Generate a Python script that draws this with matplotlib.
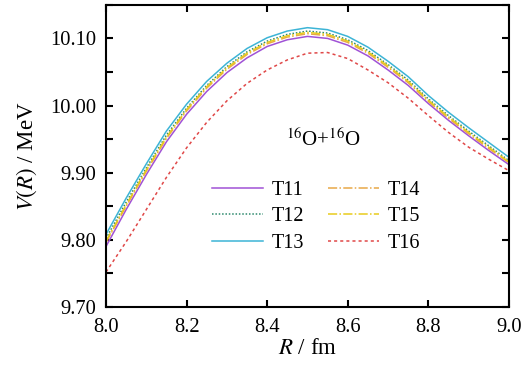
import matplotlib
matplotlib.use("Agg")
import matplotlib.pyplot as plt
from matplotlib.ticker import MultipleLocator, FormatStrFormatter

plt.rcParams['font.family'] = ['Liberation Serif', 'DejaVu Serif']
plt.rcParams['mathtext.fontset'] = 'stix'

R = [8.00, 8.05, 8.10, 8.15, 8.20, 8.25, 8.30, 8.35, 8.40, 8.45, 8.50,
     8.55, 8.60, 8.65, 8.70, 8.75, 8.80, 8.85, 8.90, 8.95, 9.00]

T11 = [9.790, 9.845, 9.897, 9.946, 9.987, 10.021, 10.049, 10.071, 10.088, 10.098, 10.103,
       10.100, 10.090, 10.074, 10.053, 10.030, 10.003, 9.978, 9.955, 9.933, 9.912]
T12 = [9.802, 9.856, 9.907, 9.956, 9.996, 10.030, 10.058, 10.080, 10.096, 10.106, 10.111,
       10.108, 10.098, 10.082, 10.061, 10.038, 10.010, 9.985, 9.962, 9.940, 9.918]
T13 = [9.808, 9.862, 9.913, 9.962, 10.002, 10.036, 10.063, 10.085, 10.101, 10.111, 10.116,
       10.113, 10.103, 10.087, 10.066, 10.043, 10.015, 9.990, 9.967, 9.945, 9.923]
T14 = [9.796, 9.850, 9.902, 9.951, 9.992, 10.026, 10.054, 10.076, 10.092, 10.102, 10.107,
       10.104, 10.094, 10.078, 10.057, 10.034, 10.006, 9.981, 9.958, 9.936, 9.915]
T15 = [9.798, 9.852, 9.904, 9.953, 9.994, 10.028, 10.056, 10.078, 10.094, 10.104, 10.109,
       10.106, 10.096, 10.080, 10.059, 10.036, 10.008, 9.983, 9.960, 9.938, 9.916]
T16 = [9.752, 9.797, 9.845, 9.893, 9.937, 9.975, 10.007, 10.033, 10.053, 10.068, 10.078,
       10.079, 10.070, 10.053, 10.034, 10.011, 9.985, 9.960, 9.938, 9.920, 9.903]

labels = ["T11", "T12", "T13", "T14", "T15", "T16"]
series = [T11, T12, T13, T14, T15, T16]
colors = ["#a052d6", "#2e8a6e", "#3cb4d6", "#e8a848", "#e8cc1c", "#e04848"]
styles = ["-", (0, (1, 1.2)), "-", (0, (6, 1.5, 1, 1.5)), (0, (6, 1.5, 1, 1.5)), (0, (2, 2))]

fig = plt.figure(figsize=(5.22, 3.73), dpi=100)
ax = fig.add_axes([0.203, 0.177, 0.772, 0.810])

for lab, ys, c, ls in zip(labels, series, colors, styles):
    ax.plot(R, ys, color=c, linestyle=ls, linewidth=1.1, label=lab)

ax.set_xlim(8.0, 9.0)
ax.set_ylim(9.70, 10.15)
ax.xaxis.set_major_locator(MultipleLocator(0.2))
ax.yaxis.set_major_locator(MultipleLocator(0.1))
ax.yaxis.set_minor_locator(MultipleLocator(0.05))
ax.xaxis.set_major_formatter(FormatStrFormatter('%.1f'))
ax.yaxis.set_major_formatter(FormatStrFormatter('%.2f'))
ax.tick_params(which='both', direction='in', top=True, right=True, labelsize=14.8,
               width=1.5)
ax.tick_params(which='major', length=5)
ax.tick_params(which='minor', length=5)
ax.tick_params(axis='x', pad=8)
ax.tick_params(axis='y', pad=7)
for s in ax.spines.values():
    s.set_linewidth(1.5)

ax.set_xlabel(r"$R$ / fm", fontsize=16.5, labelpad=1)
ax.set_ylabel(r"$V(R)$ / MeV", fontsize=16.5, labelpad=8)

ax.text(8.54, 9.949, r"$^{16}$O+$^{16}$O", fontsize=15, ha='center', va='center')

leg = ax.legend(ncol=2, loc='center', bbox_to_anchor=(0.522, 0.298), frameon=False,
                fontsize=14.5, handlelength=2.5, handletextpad=0.45, columnspacing=1.2,
                labelspacing=0.35)

fig.savefig("out.png", dpi=100)
